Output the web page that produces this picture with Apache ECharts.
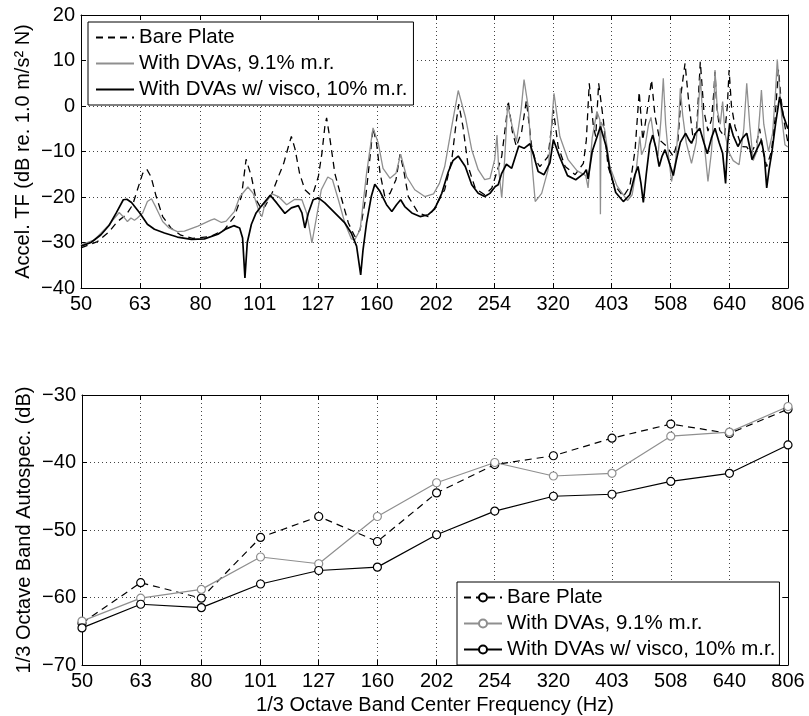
<!DOCTYPE html>
<html><head><meta charset="utf-8">
<script src="https://cdn.jsdelivr.net/npm/echarts@6/dist/echarts.min.js"></script>
<style>html,body{margin:0;padding:0;background:#fff}#c{width:809px;height:716px}</style>
</head><body><div id="c"></div><script>
// 1/3-octave band centre frequencies (Hz) used as x tick labels
const bandFreqs = [50, 63, 80, 101, 127, 160, 202, 254, 320, 403, 508, 640, 806];

// Bottom plot: 1/3 octave band autospectrum (dB)
const bareBand  = [-63.8, -57.8, -60.1, -51.1, -48.0, -51.7, -44.5, -40.3, -39.0, -36.4, -34.3, -35.7, -32.1];
const dvaBand   = [-63.5, -60.1, -58.8, -54.0, -55.0, -48.0, -43.0, -40.0, -42.0, -41.6, -36.1, -35.5, -31.7];
const viscoBand = [-64.5, -61.0, -61.5, -58.0, -56.0, -55.5, -50.7, -47.2, -45.0, -44.7, -42.8, -41.6, -37.4];

// Top plot: accel. TF, x given in 1/3-octave steps above 50 Hz (3*log2(f/50))
const tfBareU = [0,0.28,0.48,0.62,0.77,0.88,0.96,1.05,1.12,1.19,1.28,1.39,1.53,1.7,1.9,2.2,2.44,2.61,2.73,2.81,2.9,2.98,3.07,3.13,3.25,3.36,3.45,3.53,3.58,3.64,3.72,3.81,3.9,3.95,4.04,4.1,4.15,4.18,4.24,4.32,4.44,4.55,4.66,4.75,4.84,4.92,4.97,5.03,5.09,5.17,5.26,5.36,5.43,5.49,5.57,5.74,5.91,6.02,6.19,6.31,6.39,6.43,6.5,6.59,6.71,6.87,6.99,7.07,7.16,7.24,7.27,7.34,7.41,7.5,7.58,7.67,7.73,7.81,7.95,8.04,8.12,8.24,8.41,8.55,8.6,8.65,8.72,8.76,8.81,8.89,8.97,9.06,9.23,9.34,9.43,9.5,9.56,9.63,9.71,9.77,9.85,9.97,10.08,10.16,10.22,10.28,10.34,10.42,10.48,10.54,10.6,10.67,10.73,10.77,10.79,10.82,10.87,10.95,11.0,11.03,11.07,11.13,11.24,11.33,11.4,11.5,11.55,11.6,11.67,11.75,11.81,11.87,11.91,11.96,12.03];
const tfBareDb = [-31.2,-29.8,-27.6,-25.4,-23.9,-21.7,-18.4,-14.8,-13.9,-15.5,-19.9,-24.3,-26.8,-28.4,-29.1,-28.7,-27.2,-24.3,-19.9,-11.7,-15.5,-20.6,-22.6,-22.1,-19.2,-15.5,-12.6,-8.9,-6.7,-9.3,-14.8,-18.4,-19.5,-19.2,-15.5,-10.4,-4.5,-2.6,-7.5,-14.8,-20.6,-25.7,-28.7,-27.2,-20.6,-11.1,-4.8,-8.2,-14.8,-19.9,-19.2,-16.2,-10.6,-14,-19.9,-23.5,-24.3,-22.4,-18.4,-11.8,-3.1,0.4,-4.5,-13.3,-18.1,-19.5,-18.1,-14.8,-11.1,-2.7,1.2,-5.6,-8.9,-5.6,1.2,-8.9,-11.8,-13.3,-11.1,-0.9,-8.9,-13.3,-15.1,-12.6,-7.5,5,-4.5,-6.7,5,-3.1,-13.3,-17,-19.9,-17.7,-9.6,3.1,-7.5,-1.6,5.7,-2.3,-7.5,-8.9,-11.1,-7.5,3.5,9.4,1.3,-7.5,-4.5,9.7,-1,-5.5,-3,3,7.5,0,-5.3,-6.7,0,7.9,0,-4.5,-8.9,-9,-10.4,-8,-5,-9.6,-13.3,-10,-3,8,2,-3,-8];

const tfDvaU = [0,0.23,0.45,0.65,0.74,0.79,0.85,0.91,0.96,1.05,1.13,1.2,1.28,1.39,1.5,1.64,1.76,1.99,2.21,2.27,2.39,2.47,2.61,2.7,2.84,2.93,3.04,3.08,3.13,3.25,3.36,3.5,3.64,3.76,3.84,3.93,4.01,4.09,4.2,4.28,4.38,4.49,4.6,4.66,4.75,4.86,4.97,5.06,5.14,5.26,5.36,5.44,5.54,5.68,5.85,6.0,6.1,6.19,6.31,6.42,6.54,6.65,6.76,6.87,6.96,7.04,7.08,7.11,7.16,7.21,7.26,7.34,7.41,7.49,7.54,7.61,7.67,7.73,7.84,7.95,8.05,8.15,8.29,8.44,8.59,8.63,8.7,8.78,8.83,8.84,8.85,8.91,9.0,9.12,9.3,9.38,9.45,9.51,9.54,9.6,9.66,9.7,9.76,9.82,9.87,9.91,9.95,10.0,10.05,10.12,10.17,10.2,10.24,10.3,10.39,10.47,10.51,10.54,10.58,10.62,10.67,10.73,10.77,10.79,10.83,10.88,10.92,10.96,11.02,11.1,11.2,11.28,11.33,11.38,11.44,11.5,11.55,11.58,11.62,11.7,11.77,11.82,11.85,11.88,11.93,11.98,12.03];
const tfDvaDb = [-30.5,-29.4,-26.5,-23.4,-24.6,-25.4,-24.6,-25.1,-24.6,-23.5,-21,-20.4,-22.4,-25.4,-26.8,-27.6,-27.5,-26.4,-25.1,-24.8,-25.6,-25.3,-23.2,-20,-17.8,-19.2,-23.5,-24.3,-21.5,-19.3,-19.9,-21.7,-20.5,-20.6,-23.5,-30.1,-24.3,-18.4,-15.6,-16.2,-20.6,-25.7,-29.2,-29.4,-27.2,-14.8,-4.8,-8.2,-13.7,-15.9,-14.8,-10.6,-15.5,-18.4,-19.9,-19.3,-17,-13.3,-4.5,3.4,-2.3,-9.6,-14,-16.2,-15.9,-11.8,-6.4,-14,-20.2,-11.8,0.2,-4.5,-7.8,-0.9,5.8,-0.1,-11.8,-21,-19.2,-14,2.8,-6.7,-11.8,-14.2,-15.3,-18,-7,-1.2,-3,-23.8,-3.5,-5,-13.3,-17.5,-20.8,-19.5,-14,-6.7,-10.7,-8.9,-4,-2.5,-8,-11,-3,6.1,-4,-11,-16.6,-12,-4,3.9,-2,-8,-12.6,-8,0,6.4,-2,-10,-16.6,-10,-1,7.9,-1,-4,1,-6,-10,-12,-12.9,-5,5,-4,-12,-10,-2,3.5,-4,-10,-6,3,10.2,5,-3,-8.5,-9];

const tfViscoU = [0,0.17,0.34,0.48,0.6,0.72,0.78,0.86,1.0,1.13,1.25,1.42,1.64,1.88,2.1,2.33,2.47,2.6,2.7,2.75,2.79,2.83,2.9,2.98,3.07,3.22,3.33,3.47,3.58,3.7,3.76,3.81,3.87,3.95,4.04,4.15,4.32,4.49,4.6,4.69,4.76,4.8,4.86,4.94,5.0,5.09,5.2,5.29,5.37,5.44,5.51,5.63,5.77,5.91,6.02,6.14,6.25,6.33,6.42,6.54,6.65,6.76,6.87,6.96,7.05,7.1,7.16,7.24,7.33,7.45,7.54,7.64,7.7,7.78,7.88,7.98,8.04,8.15,8.28,8.42,8.56,8.6,8.63,8.7,8.84,8.94,9.0,9.1,9.23,9.34,9.43,9.48,9.53,9.57,9.62,9.68,9.73,9.78,9.84,9.89,9.94,10.0,10.08,10.13,10.2,10.29,10.35,10.39,10.46,10.53,10.6,10.66,10.73,10.79,10.86,10.92,10.97,11.0,11.04,11.1,11.18,11.26,11.33,11.38,11.42,11.5,11.58,11.63,11.67,11.71,11.76,11.82,11.89,11.95,12.03];
const tfViscoDb = [-30.8,-30,-28.3,-26.2,-23.5,-20.6,-20.5,-21.2,-23.5,-26,-27.1,-27.9,-28.8,-29.3,-29.2,-28.2,-27,-26.3,-26.8,-29,-37.8,-30,-26,-23.5,-22,-19.6,-21.3,-23.6,-22.4,-21.9,-23.5,-26.8,-23.5,-20.6,-20.2,-21.3,-23.5,-25.7,-27.9,-30.8,-37.1,-31.6,-25.7,-19.9,-17.2,-18.8,-21.7,-23.2,-21.7,-20.6,-22.1,-23.5,-24.3,-23.9,-22.6,-19.2,-14.5,-12,-11,-13.3,-17.3,-19.2,-19.9,-19.2,-17.7,-17.3,-14.8,-12.8,-13.7,-8.8,-9.3,-8.3,-10.7,-14.4,-15.1,-12.5,-7.4,-11.3,-15.3,-16.2,-14.8,-14,-16,-10,-4.5,-9,-14,-19,-21,-19.5,-15,-13.3,-17,-21.2,-15,-8.5,-6.4,-9,-13.3,-11,-9.6,-12,-15.3,-12,-8,-6,-7.5,-8.2,-6,-4.9,-8,-10.5,-7,-4.9,-8,-10.4,-17,-9,-3.8,-6.5,-8.9,-7,-6,-9,-11.8,-9.6,-7.5,-11,-18,-14,-10,-4,2,-2,-5];

const seriesNames = ['Bare Plate', 'With DVAs, 9.1% m.r.', 'With DVAs w/ visco, 10% m.r.'];
const yTitleTop = 'Accel. TF (dB re. 1.0 m/s² N)';
const yTitleBottom = '1/3 Octave Band Autospec. (dB)';
const xTitleBottom = '1/3 Octave Band Center Frequency (Hz)';

const toU = f => 3 * Math.log2(f / 50);
const tickU = bandFreqs.map(toU);
const xMax = toU(bandFreqs[bandFreqs.length - 1]);
const pair = (xs, ys) => xs.map((x, i) => [x, ys[i]]);

const FONT = 'Liberation Sans, Arial, Helvetica, sans-serif';
const GRAY = '#8f8f8f';
const minus = v => (v < 0 ? '\u2212' + Math.abs(v) : String(v));

function xAxes(grid, name) {
  const base = {
    type: 'value', gridIndex: grid, min: 0, max: xMax,
    axisLine: { show: true, onZero: false, lineStyle: { color: '#000', width: 1 } },
    axisTick: { show: true, inside: true, length: 5, customValues: tickU, lineStyle: { color: '#000' } },
  };
  return [
    Object.assign({}, base, {
      position: 'bottom',
      axisLabel: { show: true, customValues: tickU, color: '#000', fontSize: 20, fontFamily: FONT, margin: 6,
        formatter: v => String(Math.round(50 * Math.pow(2, v / 3))) },
      splitLine: { show: true, customValues: tickU, lineStyle: { color: '#444', type: [1, 3], width: 1 } },
      name: name || '', nameLocation: 'middle', nameGap: 30,
      nameTextStyle: { color: '#000', fontSize: 20, fontFamily: FONT }
    }),
    Object.assign({}, base, { position: 'top', axisLabel: { show: false }, splitLine: { show: false } })
  ];
}
function yAxes(grid, min, max, name) {
  const base = {
    type: 'value', gridIndex: grid, min: min, max: max, interval: 10,
    axisLine: { show: true, onZero: false, lineStyle: { color: '#000', width: 1 } },
    axisTick: { show: true, inside: true, length: 5, lineStyle: { color: '#000' } },
  };
  return [
    Object.assign({}, base, {
      position: 'left',
      axisLabel: { color: '#000', fontSize: 20, fontFamily: FONT, margin: 6, formatter: minus },
      splitLine: { show: true, lineStyle: { color: '#444', type: [1, 3], width: 1 } },
      name: name, nameLocation: 'middle', nameRotate: 90, nameGap: 48, nameMoveOverlap: false,
      nameTextStyle: { color: '#000', fontSize: 20, fontFamily: FONT }
    }),
    Object.assign({}, base, { position: 'right', axisLabel: { show: false }, splitLine: { show: false } })
  ];
}

const legendBase = {
  orient: 'vertical', itemWidth: 38, itemHeight: 10, itemGap: 5,
  backgroundColor: '#fff', borderColor: '#000', borderWidth: 1, borderRadius: 0,
  textStyle: { color: '#000', fontSize: 20.5, fontFamily: FONT, lineHeight: 20 },
  formatter: n => n.trim(), selectedMode: false
};

const option = {
  animation: false,
  backgroundColor: '#fff',
  grid: [
    { left: 81, top: 15, width: 707, height: 273 },
    { left: 82, top: 395, width: 706, height: 272 }
  ],
  xAxis: [...xAxes(0, ''), ...xAxes(1, xTitleBottom)],
  yAxis: [...yAxes(0, -40, 20, yTitleTop), ...yAxes(1, -70, -30, yTitleBottom)],
  legend: [
    Object.assign({}, legendBase, { left: 88, top: 22, padding: [5, 6, 5, 7], data: seriesNames,
      itemStyle: { color: 'rgba(0,0,0,0)', borderColor: 'rgba(0,0,0,0)', borderWidth: 0 } }),
    Object.assign({}, legendBase, { left: 457, top: 582, padding: [5, 4, 5, 6], data: seriesNames.map(n => n + ' ') })
  ],
  series: [
    { name: seriesNames[0], type: 'line', xAxisIndex: 0, yAxisIndex: 0, data: pair(tfBareU, tfBareDb),
      symbol: 'none', lineStyle: { color: '#000', width: 1.3, type: [7, 5] }, itemStyle: { color: '#000' } },
    { name: seriesNames[1], type: 'line', xAxisIndex: 0, yAxisIndex: 0, data: pair(tfDvaU, tfDvaDb),
      symbol: 'none', lineStyle: { color: GRAY, width: 1.3 }, itemStyle: { color: GRAY } },
    { name: seriesNames[2], type: 'line', xAxisIndex: 0, yAxisIndex: 0, data: pair(tfViscoU, tfViscoDb),
      symbol: 'none', lineStyle: { color: '#000', width: 1.7 }, itemStyle: { color: '#000' } },
    { name: seriesNames[0] + ' ', type: 'line', xAxisIndex: 2, yAxisIndex: 2, data: pair(tickU, bareBand),
      symbol: 'circle', symbolSize: 8, lineStyle: { color: '#000', width: 1.2, type: [7, 5] },
      itemStyle: { color: '#fff', borderColor: '#000', borderWidth: 1.2 } },
    { name: seriesNames[1] + ' ', type: 'line', xAxisIndex: 2, yAxisIndex: 2, data: pair(tickU, dvaBand),
      symbol: 'circle', symbolSize: 8, lineStyle: { color: GRAY, width: 1.2 },
      itemStyle: { color: '#fff', borderColor: GRAY, borderWidth: 1.2 } },
    { name: seriesNames[2] + ' ', type: 'line', xAxisIndex: 2, yAxisIndex: 2, data: pair(tickU, viscoBand),
      symbol: 'circle', symbolSize: 8, lineStyle: { color: '#000', width: 1.2 },
      itemStyle: { color: '#fff', borderColor: '#000', borderWidth: 1.2 } }
  ]
};
echarts.init(document.getElementById('c'), null, { renderer: 'canvas' }).setOption(option);
</script></body></html>
